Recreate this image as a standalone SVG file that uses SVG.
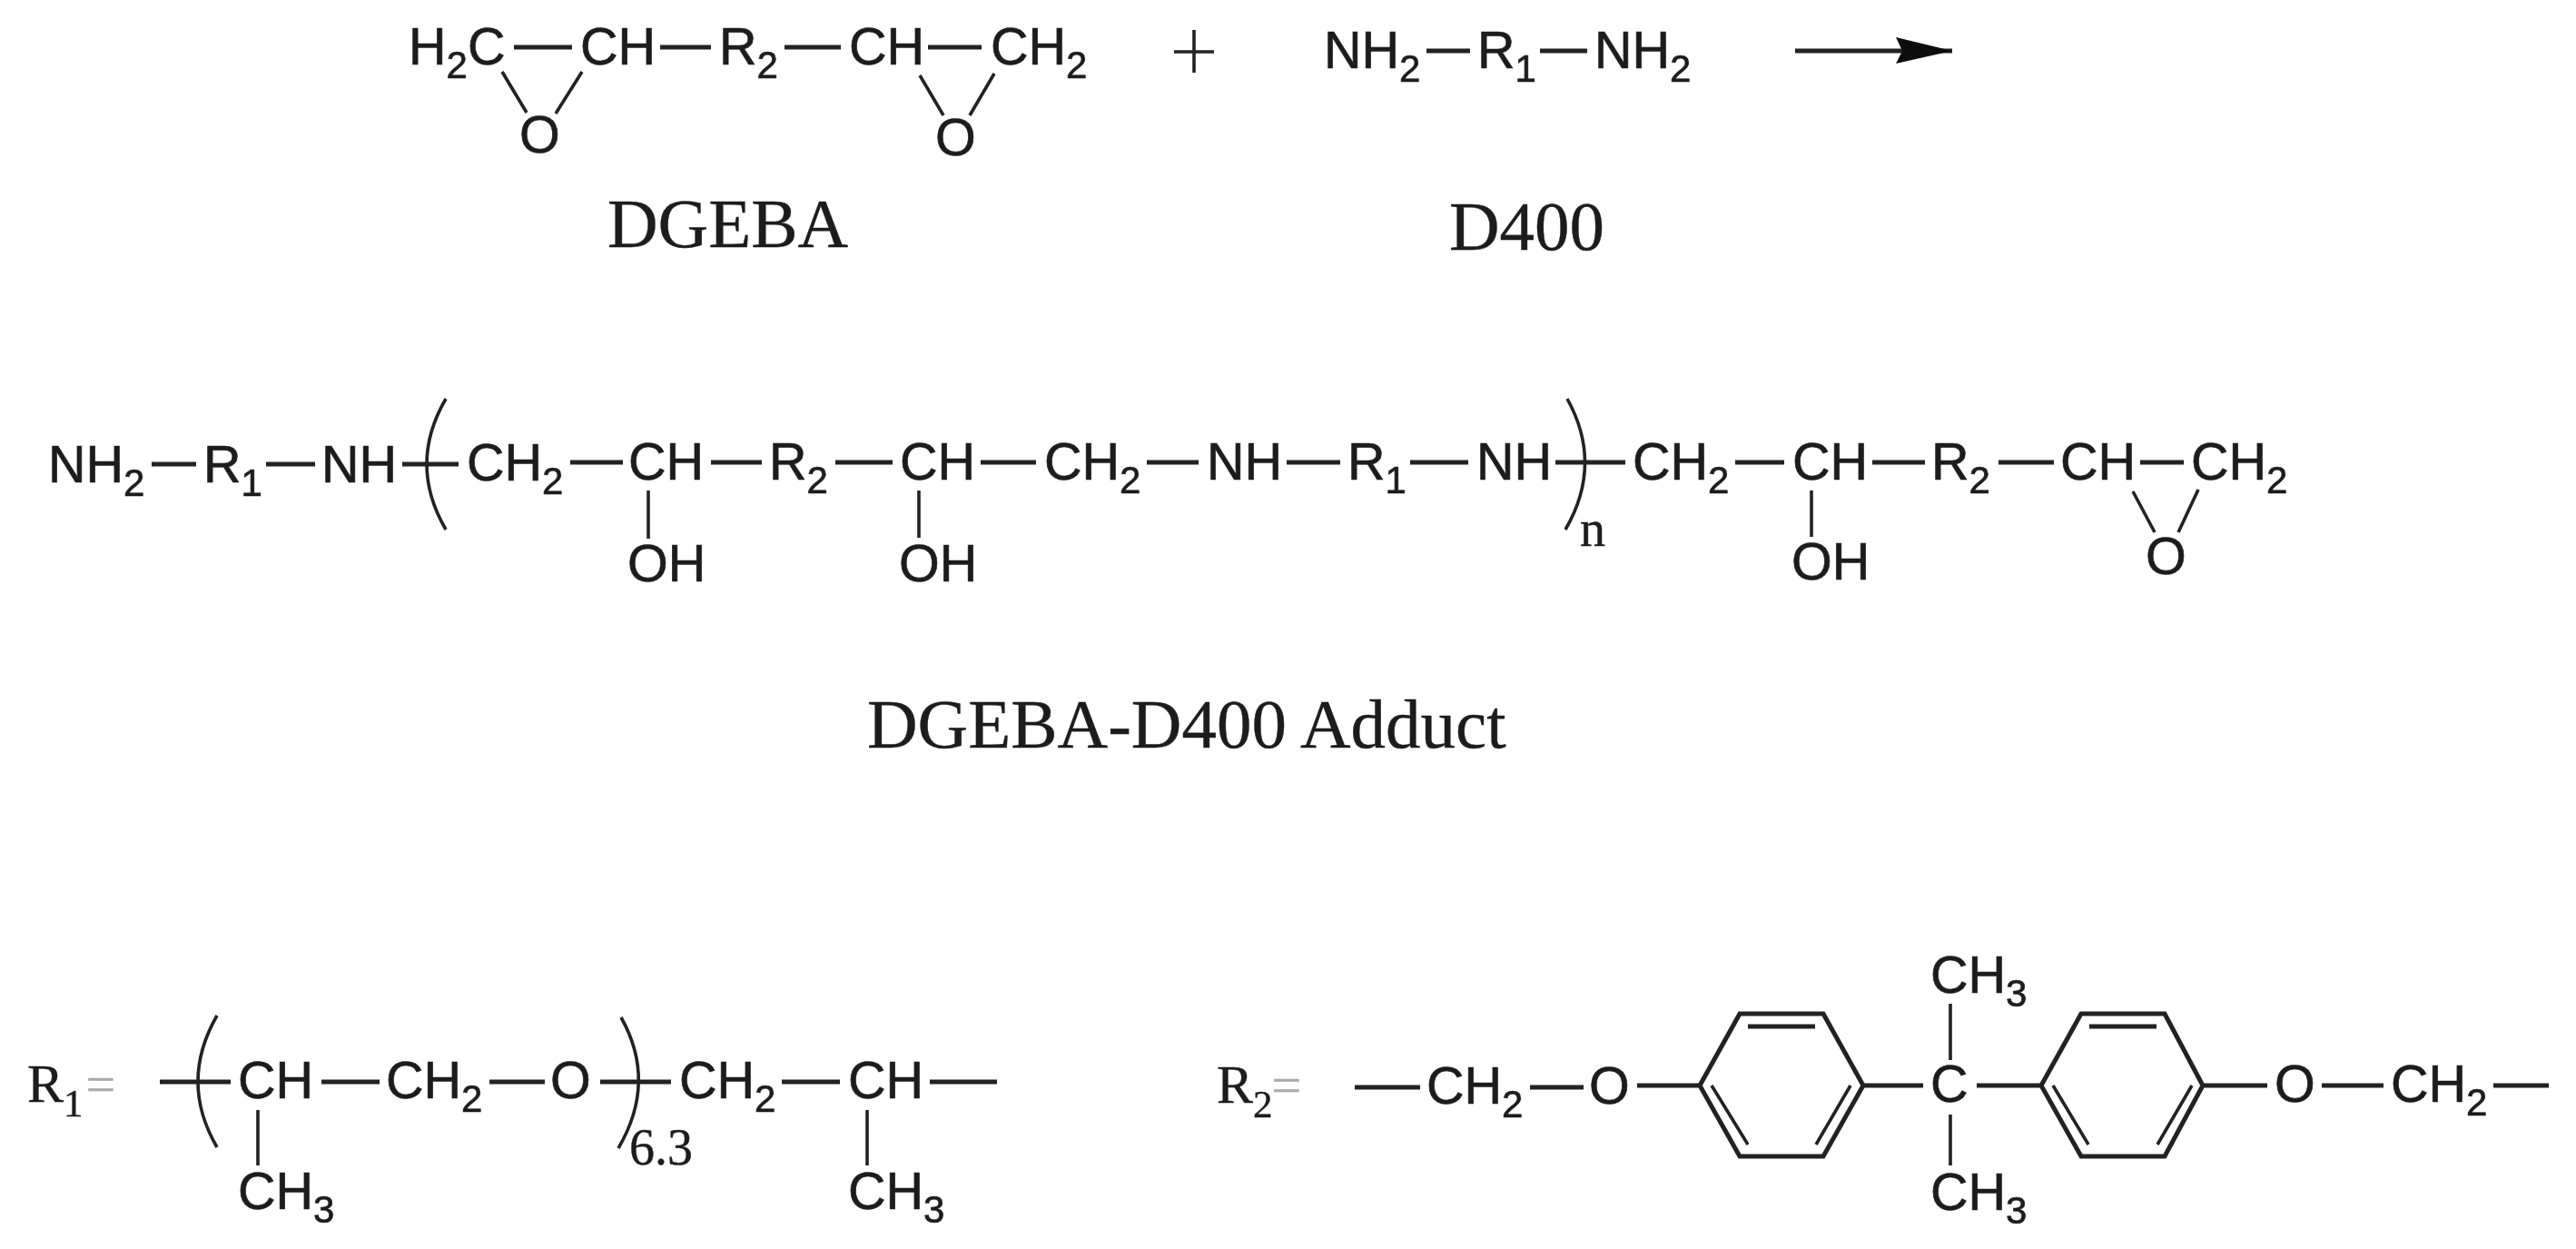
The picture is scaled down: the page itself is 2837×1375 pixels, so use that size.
<svg xmlns="http://www.w3.org/2000/svg" width="2837" height="1375" viewBox="0 0 2837 1375">
<defs>
<marker id="head" markerUnits="userSpaceOnUse" markerWidth="64" markerHeight="32" refX="62" refY="15" orient="auto"><path d="M0 0L62 15L0 29L7 15Z" fill="#111"/></marker>
<filter id="soft" x="0" y="0" width="100%" height="100%"><feGaussianBlur stdDeviation="0.7"/></filter>
</defs>
<style>
text{fill:#1c1c1c;stroke:#1c1c1c;stroke-width:.7}
.a{font-family:"Liberation Sans",Arial,sans-serif;font-size:57.5px}
.a tspan{font-size:42px}
.t{font-family:"Liberation Serif","Times New Roman",serif;font-size:77px;stroke-width:.4}
.r{font-family:"Liberation Serif","Times New Roman",serif;font-size:60px;stroke-width:.4}
.r tspan{font-size:43px}
.r .e{fill:#aaa;stroke:#aaa}
.n{font-family:"Liberation Serif","Times New Roman",serif;font-size:56px;stroke-width:.4}
.b line,.b path,.b polygon{stroke:#222;stroke-width:5;fill:none}
.b .v{stroke-width:3.6}
</style>
<rect width="2837" height="1375" fill="#fff"/>
<g filter="url(#soft)">
<g id="connectors" class="b">
<!-- row 1 -->
<line x1="566" y1="52" x2="630" y2="52"/><line x1="727" y1="52" x2="783" y2="52"/><line x1="864" y1="52" x2="926" y2="52"/><line x1="1022" y1="52" x2="1081" y2="52"/>
<line class="v" x1="553" y1="79" x2="580" y2="124"/><line class="v" x1="641" y1="79" x2="612" y2="125"/><line class="v" x1="1013" y1="83" x2="1039" y2="127"/><line class="v" x1="1095" y1="81" x2="1068" y2="127"/>
<line class="v" x1="1293" y1="57" x2="1337" y2="57"/><line class="v" x1="1315" y1="33" x2="1315" y2="80"/>
<line x1="1571" y1="56" x2="1619" y2="56"/><line x1="1696" y1="56" x2="1748" y2="56"/>
<line x1="1977" y1="56" x2="2150" y2="56" marker-end="url(#head)"/>
<!-- row 2 -->
<line x1="167" y1="511" x2="216" y2="511"/><line x1="293" y1="511" x2="347" y2="511"/><line x1="443" y1="511" x2="505" y2="511"/><line x1="628" y1="509" x2="686" y2="509"/><line x1="783" y1="509" x2="839" y2="509"/><line x1="920" y1="509" x2="983" y2="509"/>
<line x1="1080" y1="509" x2="1141" y2="509"/><line x1="1263" y1="509" x2="1320" y2="509"/><line x1="1417" y1="509" x2="1476" y2="509"/><line x1="1553" y1="509" x2="1617" y2="509"/><line x1="1713" y1="509" x2="1790" y2="509"/>
<line x1="1911" y1="509" x2="1965" y2="509"/><line x1="2062" y1="509" x2="2120" y2="509"/><line x1="2201" y1="509" x2="2262" y2="509"/><line x1="2357" y1="509" x2="2405" y2="509"/>
<path class="v" d="M491 439Q449 511 491 583"/><path class="v" d="M1726 439Q1766 511 1724 583"/>
<line class="v" x1="714" y1="540" x2="714" y2="593"/><line class="v" x1="1012" y1="540" x2="1012" y2="592"/><line class="v" x1="1995" y1="540" x2="1995" y2="591"/>
<line class="v" x1="2349" y1="541" x2="2373" y2="586"/><line class="v" x1="2421" y1="539" x2="2399" y2="586"/>
<!-- R1 -->
<line x1="176" y1="1191" x2="254" y2="1191"/><line x1="354" y1="1191" x2="418" y2="1191"/><line x1="539" y1="1191" x2="600" y2="1191"/><line x1="661" y1="1191" x2="739" y2="1191"/><line x1="861" y1="1191" x2="925" y2="1191"/><line x1="1024" y1="1191" x2="1098" y2="1191"/>
<path class="v" d="M239 1118Q197 1191 239 1263"/><path class="v" d="M684 1120Q724 1191 681 1264"/>
<line class="v" x1="284" y1="1222" x2="284" y2="1283"/><line class="v" x1="955" y1="1222" x2="955" y2="1283"/>
<!-- R2 -->
<line x1="1492" y1="1197" x2="1564" y2="1197"/><line x1="1685" y1="1197" x2="1744" y2="1197"/><line x1="1803" y1="1195" x2="1872" y2="1195"/>
<polygon points="1872,1195 1916,1116 2008,1116 2052,1195 2008,1273 1916,1273"/>
<line x1="1925" y1="1130" x2="1999" y2="1130"/><line class="v" x1="1885" y1="1195" x2="1925" y2="1260"/><line class="v" x1="2038" y1="1195" x2="2000" y2="1260"/>
<line x1="2052" y1="1195" x2="2118" y2="1195"/><line x1="2177" y1="1195" x2="2248" y2="1195"/>
<polygon points="2248,1195 2292,1116 2384,1116 2426,1195 2384,1273 2292,1273"/>
<line x1="2301" y1="1130" x2="2375" y2="1130"/><line class="v" x1="2261" y1="1195" x2="2300" y2="1260"/><line class="v" x1="2414" y1="1195" x2="2376" y2="1260"/>
<line x1="2426" y1="1195" x2="2497" y2="1195"/><line x1="2557" y1="1195" x2="2625" y2="1195"/><line x1="2746" y1="1195" x2="2807" y2="1195"/>
<line class="v" x1="2148" y1="1105" x2="2148" y2="1167"/><line class="v" x1="2148" y1="1227" x2="2148" y2="1283"/>
</g>
<g id="dgeba-h2c"><text class="a" x="450" y="71">H<tspan dy="15">2</tspan><tspan dy="-15" style="font-size:57.5px">C</tspan></text></g>
<g id="dgeba-ch1"><text class="a" x="639" y="71">CH</text></g>
<g id="dgeba-r2"><text class="a" x="792" y="71">R<tspan dy="15">2</tspan></text></g>
<g id="dgeba-ch2"><text class="a" x="935" y="71">CH</text></g>
<g id="dgeba-ch2b"><text class="a" x="1091" y="71">CH<tspan dy="15">2</tspan></text></g>
<g id="dgeba-o1"><text class="a" x="572" y="168">O</text></g>
<g id="dgeba-o2"><text class="a" x="1030" y="171">O</text></g>
<g id="dgeba-label"><text class="t" x="669" y="272">DGEBA</text></g>
<g id="d400-nh2a"><text class="a" x="1458" y="75">NH<tspan dy="15">2</tspan></text></g>
<g id="d400-r1"><text class="a" x="1627" y="75">R<tspan dy="15">1</tspan></text></g>
<g id="d400-nh2b"><text class="a" x="1756" y="75">NH<tspan dy="15">2</tspan></text></g>
<g id="d400-label"><text class="t" x="1596" y="275">D400</text></g>
<g id="p-nh2"><text class="a" x="53" y="531">NH<tspan dy="15">2</tspan></text></g>
<g id="p-r1a"><text class="a" x="224" y="531">R<tspan dy="15">1</tspan></text></g>
<g id="p-nh1"><text class="a" x="354" y="531">NH</text></g>
<g id="p-ch2a"><text class="a" x="514" y="529">CH<tspan dy="15">2</tspan></text></g>
<g id="p-cha"><text class="a" x="692" y="528">CH</text></g>
<g id="p-r2a"><text class="a" x="847" y="528">R<tspan dy="15">2</tspan></text></g>
<g id="p-chb"><text class="a" x="991" y="528">CH</text></g>
<g id="p-oha"><text class="a" x="691" y="640">OH</text></g>
<g id="p-ohb"><text class="a" x="990" y="640">OH</text></g>
<g id="p-ch2b"><text class="a" x="1150" y="528">CH<tspan dy="15">2</tspan></text></g>
<g id="p-nh2b"><text class="a" x="1329" y="528">NH</text></g>
<g id="p-r1b"><text class="a" x="1484" y="528">R<tspan dy="15">1</tspan></text></g>
<g id="p-nh3"><text class="a" x="1626" y="528">NH</text></g>
<g id="p-n"><text class="n" x="1740" y="601">n</text></g>
<g id="p-ch2c"><text class="a" x="1798" y="528">CH<tspan dy="15">2</tspan></text></g>
<g id="p-chc"><text class="a" x="1974" y="528">CH</text></g>
<g id="p-ohc"><text class="a" x="1973" y="638">OH</text></g>
<g id="p-r2b"><text class="a" x="2127" y="528">R<tspan dy="15">2</tspan></text></g>
<g id="p-chd"><text class="a" x="2269" y="528">CH</text></g>
<g id="p-ch2d"><text class="a" x="2413" y="528">CH<tspan dy="15">2</tspan></text></g>
<g id="p-o"><text class="a" x="2363" y="632">O</text></g>
<g id="adduct-label"><text class="t" x="955" y="823">DGEBA-D400 Adduct</text></g>
<g id="r1-label"><text class="r" x="30" y="1213">R<tspan dy="16">1</tspan><tspan class="e" dy="-16" dx="3" style="font-size:58px">=</tspan></text></g>
<g id="r1-ch"><text class="a" x="262" y="1209">CH</text></g>
<g id="r1-ch2a"><text class="a" x="425" y="1209">CH<tspan dy="15">2</tspan></text></g>
<g id="r1-o"><text class="a" x="606" y="1209">O</text></g>
<g id="r1-n"><text class="n" x="693" y="1282">6.3</text></g>
<g id="r1-ch2b"><text class="a" x="748" y="1209">CH<tspan dy="15">2</tspan></text></g>
<g id="r1-chb"><text class="a" x="934" y="1209">CH</text></g>
<g id="r1-ch3a"><text class="a" x="262" y="1331">CH<tspan dy="15">3</tspan></text></g>
<g id="r1-ch3b"><text class="a" x="934" y="1331">CH<tspan dy="15">3</tspan></text></g>
<g id="r2-label"><text class="r" x="1340" y="1214">R<tspan dy="16">2</tspan><tspan class="e" dy="-16" dx="-1" style="font-size:58px">=</tspan></text></g>
<g id="r2-ch2a"><text class="a" x="1571" y="1215">CH<tspan dy="15">2</tspan></text></g>
<g id="r2-oa"><text class="a" x="1750" y="1215">O</text></g>
<g id="r2-c"><text class="a" x="2126" y="1213">C</text></g>
<g id="r2-ch3a"><text class="a" x="2126" y="1093">CH<tspan dy="15">3</tspan></text></g>
<g id="r2-ch3b"><text class="a" x="2126" y="1332">CH<tspan dy="15">3</tspan></text></g>
<g id="r2-ob"><text class="a" x="2505" y="1213">O</text></g>
<g id="r2-ch2b"><text class="a" x="2633" y="1213">CH<tspan dy="15">2</tspan></text></g>
</g>
</svg>
